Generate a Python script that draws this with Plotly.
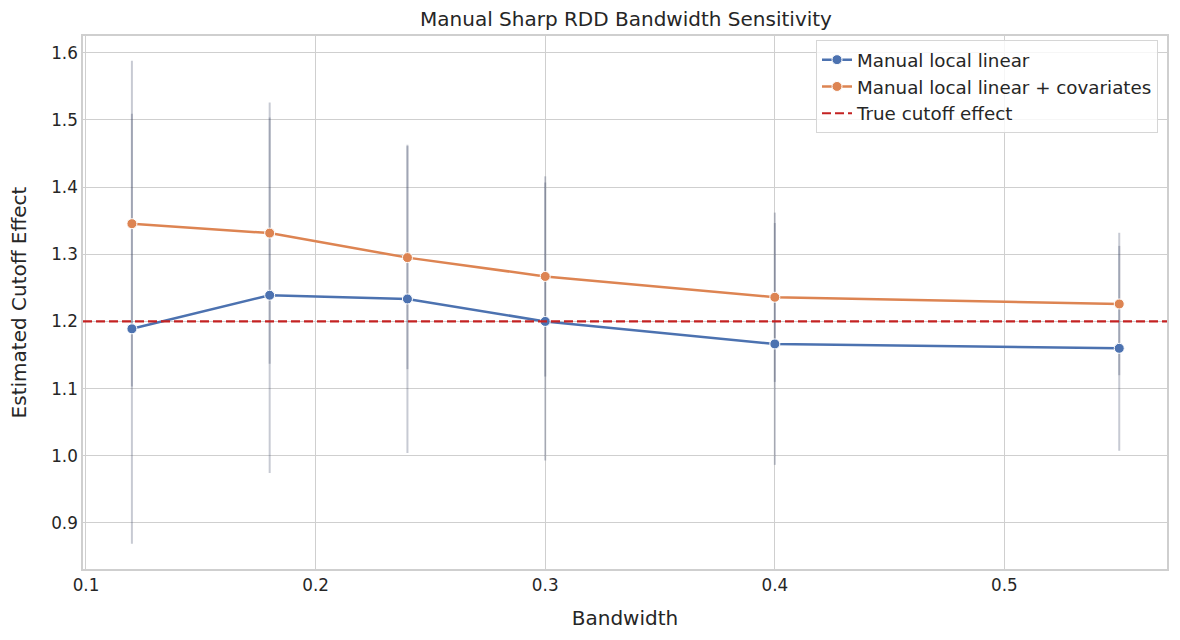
import plotly.graph_objects as go

bandwidths = [0.12, 0.18, 0.24, 0.30, 0.40, 0.55]
est_linear = [1.189, 1.239, 1.2335, 1.200, 1.1665, 1.160]
err_linear = [0.320, 0.2645, 0.2295, 0.207, 0.180, 0.1525]
est_cov = [1.3455, 1.3315, 1.295, 1.267, 1.236, 1.226]
err_cov = [0.2425, 0.1945, 0.166, 0.149, 0.126, 0.106]
true_effect = 1.2

series_names = ["Manual local linear", "Manual local linear + covariates", "True cutoff effect"]
x_ticks = [0.1, 0.2, 0.3, 0.4, 0.5]
y_ticks = [0.9, 1.0, 1.1, 1.2, 1.3, 1.4, 1.5, 1.6]

BLUE = "#4c72b0"
ORANGE = "#dd8452"
RED = "#c42222"
ERR = "rgba(70,80,110,0.30)"
GRID = "#cfcfcf"
TXT = "#262626"
FONT = "DejaVu Sans"

fig = go.Figure()

# error bars (drawn beneath the lines)
for est, err in [(est_linear, err_linear), (est_cov, err_cov)]:
    fig.add_trace(go.Scatter(
        x=bandwidths, y=est, mode="markers",
        marker=dict(size=0.1, opacity=0),
        error_y=dict(type="data", array=err, visible=True, color=ERR,
                     thickness=2, width=0),
        showlegend=False, hoverinfo="skip"))

fig.add_trace(go.Scatter(
    x=bandwidths, y=est_linear, mode="lines+markers", name=series_names[0],
    line=dict(color=BLUE, width=2.5),
    marker=dict(size=10, color=BLUE, line=dict(color="white", width=1))))
fig.add_trace(go.Scatter(
    x=bandwidths, y=est_cov, mode="lines+markers", name=series_names[1],
    line=dict(color=ORANGE, width=2.5),
    marker=dict(size=10, color=ORANGE, line=dict(color="white", width=1))))

fig.add_hline(y=true_effect, line=dict(color=RED, width=2.2, dash="9px,4px"), layer="above")
fig.add_trace(go.Scatter(
    x=[None], y=[None], mode="lines", name=series_names[2],
    line=dict(color=RED, width=2.2, dash="9px,4px")))

fig.update_layout(
    width=1180, height=640,
    margin=dict(l=83, r=11, t=36, b=71),
    paper_bgcolor="white", plot_bgcolor="white",
    font=dict(family=FONT, color=TXT, size=16.8),
    title=dict(text="Manual Sharp RDD Bandwidth Sensitivity",
               x=(83 + 1169) / 2 / 1180, xanchor="center",
               y=1 - 19 / 640, yanchor="middle",
               font=dict(size=20, color=TXT, family=FONT)),
    legend=dict(x=0.9917, xanchor="right", y=0.992, yanchor="top",
                bgcolor="rgba(255,255,255,0.8)", bordercolor="#d6d6d6",
                borderwidth=1, font=dict(size=18.3, color=TXT, family=FONT)),
    showlegend=True,
)

fig.update_xaxes(
    range=[0.0987, 0.5708], tickvals=x_ticks, ticktext=[f"{v:.1f}" for v in x_ticks],
    showgrid=True, gridcolor=GRID, gridwidth=1.4, zeroline=False,
    showline=True, linecolor=GRID, linewidth=1.5, mirror=True,
    ticks="", tickfont=dict(size=16.8, color=TXT),
    title=dict(text="Bandwidth", font=dict(size=20, color=TXT), standoff=17))
fig.update_yaxes(
    range=[0.8315, 1.6249], tickvals=y_ticks, ticktext=[f"{v:.1f}" for v in y_ticks],
    showgrid=True, gridcolor=GRID, gridwidth=1.4, zeroline=False,
    showline=True, linecolor=GRID, linewidth=1.5, mirror=True,
    ticks="", tickfont=dict(size=16.8, color=TXT),
    title=dict(text="Estimated Cutoff Effect", font=dict(size=20, color=TXT), standoff=19))

fig.write_html("out.html", config={"displayModeBar": False},
               post_script="document.body.style.margin='0';")
